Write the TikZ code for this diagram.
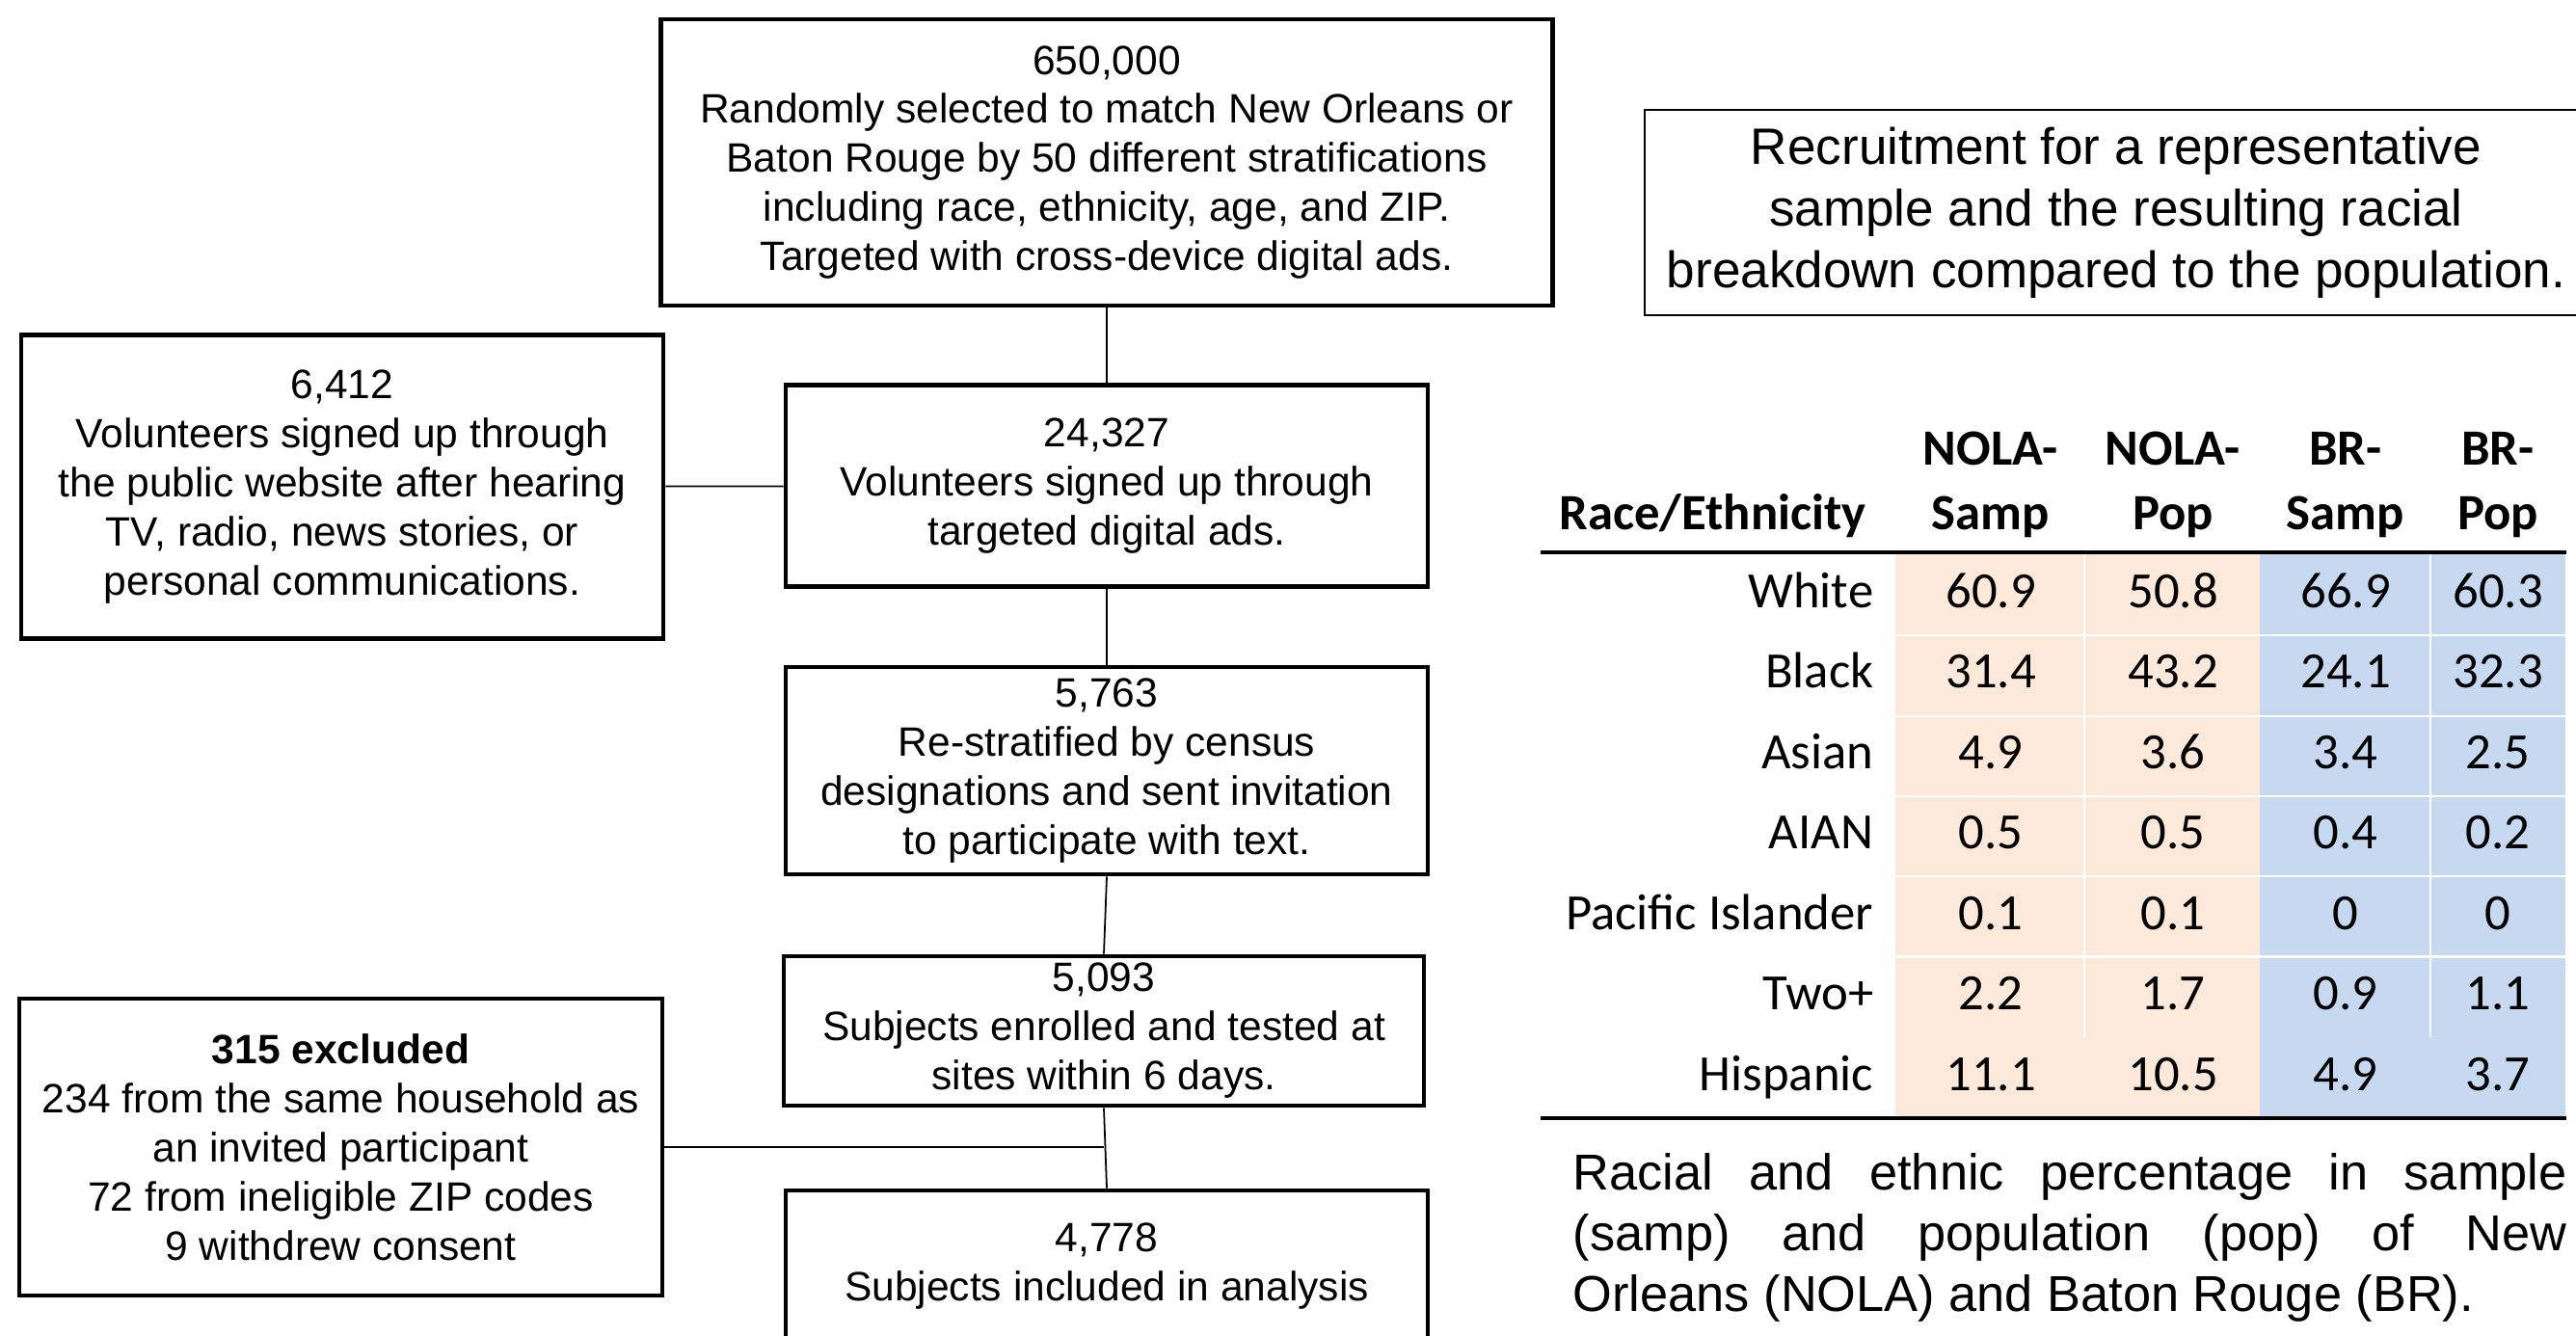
\documentclass[tikz,border=0pt]{standalone}
\usepackage{fontspec}
\setmainfont{Liberation Sans}
\newfontfamily\calibri{Carlito}
\usepackage{xcolor}
\usetikzlibrary{calc}
\definecolor{nolafill}{HTML}{FDE9D9}
\definecolor{brfill}{HTML}{C6D9F1}

\tikzset{
  flowbox/.style={draw, line width=1.4pt, align=center, inner sep=0pt,
    font=\fontsize{12.1pt}{14.5pt}\selectfont},
  link/.style={line width=0.5pt},
  tabcell/.style={inner sep=0pt, text height=0.34cm, text depth=0pt,
    font=\calibri\fontsize{15pt}{18pt}\selectfont},
  tabhead/.style={tabcell, font=\calibri\bfseries\fontsize{15pt}{18pt}\selectfont},
}

% one row of the table: index, label, four values
\providecommand{\TabRow}[6]{%
  \pgfmathsetmacro{\rowy}{-6.13-0.835*(#1-1)}%
  \node[tabcell, anchor=east] (lab#1) at (19.44,\rowy) {#2};
  \node[tabcell] (ns#1) at (20.65,\rowy) {#3};
  \node[tabcell] (np#1) at (22.54,\rowy) {#4};
  \node[tabcell] (bs#1) at (24.33,\rowy) {#5};
  \node[tabcell] (bp#1) at (25.91,\rowy) {#6};
}

\begin{document}
\begin{tikzpicture}
	\useasboundingbox[fill=white] (0,0) rectangle (26.72,-13.85);

	% flow chart
	\node[flowbox, minimum width=9.25cm, minimum height=2.97cm] (invited) at (11.48,-1.685) {650,000\\Randomly selected to match New Orleans or\\Baton Rouge by 50 different stratifications\\including race, ethnicity, age, and ZIP.\\Targeted with cross-device digital ads.};
	\node[flowbox, minimum width=6.66cm, minimum height=3.15cm] (public) at (3.55,-5.05) {6,412\\Volunteers signed up through\\the public website after hearing\\TV, radio, news stories, or\\personal communications.};
	\node[flowbox, minimum width=6.66cm, minimum height=2.09cm] (ads) at (11.48,-5.04) {24,327\\Volunteers signed up through\\targeted digital ads.};
	\node[flowbox, minimum width=6.66cm, minimum height=2.15cm] (restrat) at (11.48,-7.995) {5,763\\Re-stratified by census\\designations and sent invitation\\to participate with text.};
	\node[flowbox, minimum width=6.64cm, minimum height=1.55cm] (enrolled) at (11.45,-10.695) {5,093\\Subjects enrolled and tested at\\sites within 6 days.};
	\node[flowbox, minimum width=6.66cm, minimum height=1.58cm] (analysis) at (11.48,-13.14) {4,778\\Subjects included in analysis};
	\node[flowbox, minimum width=6.67cm, minimum height=3.08cm] (excluded) at (3.535,-11.9) {\textbf{315 excluded}\\234 from the same household as\\an invited participant\\72 from ineligible ZIP codes\\9 withdrew consent};

	\coordinate (junc) at (enrolled.south |- excluded.east);

	\draw[link] (invited.south) -- (ads.north);
	\draw[link] (public) -- (ads);
	\draw[link] (ads.south) -- (restrat.north);
	\draw[link] (restrat.south) -- (enrolled.north);
	\draw[link] (enrolled.south) -- (analysis.north);
	\draw[link] (excluded.east) -- (junc);

	% title
	\node[draw, line width=0.6pt, minimum width=9.78cm, minimum height=2.13cm, align=center, inner sep=0pt,
		font=\fontsize{15.1pt}{18.2pt}\selectfont] (title) at (21.95,-2.205) {Recruitment for a representative\\sample and the resulting racial\\breakdown compared to the population.};

	% table cells
	\fill[nolafill] (19.66,-5.75) rectangle (23.44,-11.59);
	\fill[brfill] (23.44,-5.75) rectangle (26.61,-11.59);
	\draw[white, line width=0.6pt] (19.66,-6.593) -- (26.61,-6.593);
	\draw[white, line width=0.6pt] (19.66,-7.426) -- (26.61,-7.426);
	\draw[white, line width=0.6pt] (19.66,-8.259) -- (26.61,-8.259);
	\draw[white, line width=0.6pt] (19.66,-9.092) -- (26.61,-9.092);
	\draw[white, line width=0.6pt] (19.66,-9.925) -- (26.61,-9.925);
	\draw[white, line width=0.6pt] (21.62,-5.75) -- (21.62,-10.758);
	\draw[white, line width=0.6pt] (25.21,-5.75) -- (25.21,-10.758);

	\draw[line width=1pt] (15.98,-5.73) -- (26.62,-5.73);
	\draw[line width=1pt] (15.98,-11.60) -- (26.62,-11.60);

	% header
	\node[tabhead, anchor=west] (race) at (16.17,-5.32) {Race/Ethnicity};
	\node[tabhead] (nsa) at (20.65,-4.65) {NOLA-};
	\node[tabhead] (nsb) at (20.65,-5.32) {Samp};
	\node[tabhead] (npa) at (22.54,-4.65) {NOLA-};
	\node[tabhead] (npb) at (22.54,-5.32) {Pop};
	\node[tabhead] (bsa) at (24.33,-4.65) {BR-};
	\node[tabhead] (bsb) at (24.33,-5.32) {Samp};
	\node[tabhead] (bpa) at (25.91,-4.65) {BR-};
	\node[tabhead] (bpb) at (25.91,-5.32) {Pop};

	\TabRow{1}{White}{60.9}{50.8}{66.9}{60.3}
	\TabRow{2}{Black}{31.4}{43.2}{24.1}{32.3}
	\TabRow{3}{Asian}{4.9}{3.6}{3.4}{2.5}
	\TabRow{4}{AIAN}{0.5}{0.5}{0.4}{0.2}
	\TabRow{5}{Pacific Islander}{0.1}{0.1}{0}{0}
	\TabRow{6}{Two+}{2.2}{1.7}{0.9}{1.1}
	\TabRow{7}{Hispanic}{11.1}{10.5}{4.9}{3.7}

	% caption
	\node[anchor=north west, inner sep=0pt, text width=10.31cm, align=justify,
		font=\fontsize{14.9pt}{17.9pt}\selectfont] (caption) at (16.31,-11.96) {Racial and ethnic percentage in sample\linebreak (samp) and population (pop) of New\linebreak Orleans (NOLA) and Baton Rouge (BR).};

\end{tikzpicture}
\end{document}
